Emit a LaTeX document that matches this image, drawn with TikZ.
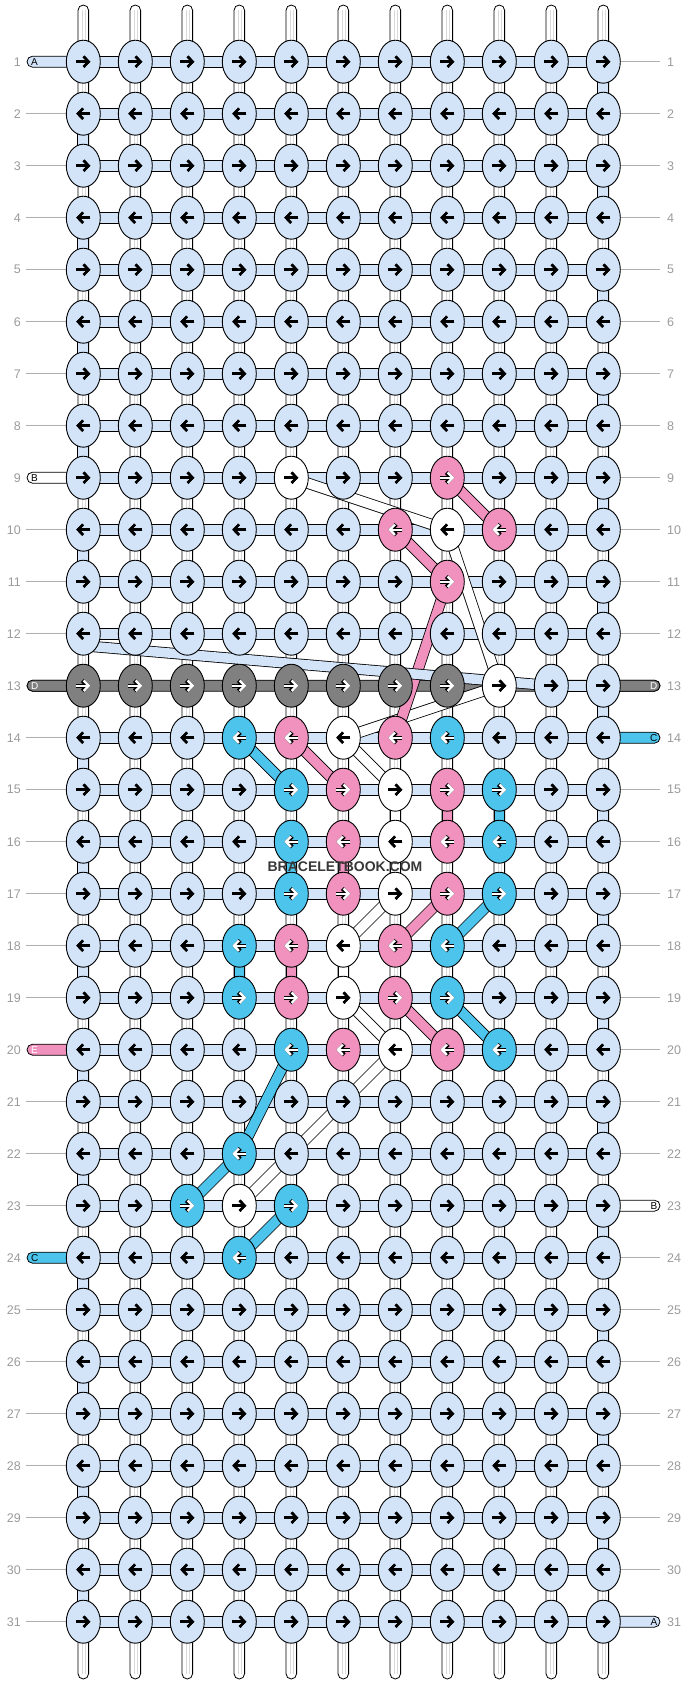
\documentclass[tikz,border=0pt]{standalone}
\usepackage{fontspec}
\setmainfont{Liberation Sans}
\usetikzlibrary{shapes.geometric, arrows.meta}

\definecolor{thrA}{RGB}{211,228,249}
\definecolor{thrB}{RGB}{255,255,255}
\definecolor{thrC}{RGB}{76,196,236}
\definecolor{thrD}{RGB}{128,128,128}
\definecolor{thrE}{RGB}{240,145,190}
\definecolor{rownum}{RGB}{155,155,155}

\pgfdeclarelayer{strings}
\pgfdeclarelayer{threads}
\pgfsetlayers{strings,threads,main}

% knots that are not tied with thread A
\newcommand{\knotrow}[2]{%
  \foreach \c/\k in {#2}{\expandafter\xdef\csname knot@#1@\c\endcsname{\k}}}
\knotrow{9}{5/B,8/E}
\knotrow{10}{7/E,8/B,9/E}
\knotrow{11}{8/E}
\knotrow{13}{1/D,2/D,3/D,4/D,5/D,6/D,7/D,8/D,9/B}
\knotrow{14}{4/C,5/E,6/B,7/E,8/C}
\knotrow{15}{5/C,6/E,7/B,8/E,9/C}
\knotrow{16}{5/C,6/E,7/B,8/E,9/C}
\knotrow{17}{5/C,6/E,7/B,8/E,9/C}
\knotrow{18}{4/C,5/E,6/B,7/E,8/C}
\knotrow{19}{4/C,5/E,6/B,7/E,8/C}
\knotrow{20}{5/C,6/E,7/B,8/E,9/C}
\knotrow{22}{4/C}
\knotrow{23}{3/C,4/B,5/C}
\knotrow{24}{4/C}

\tikzset{
  knot/.style={ellipse, draw, line width=0.9pt, minimum width=34pt,
    minimum height=43pt, inner sep=0pt},
  strand/.style={line width=0.8pt, double distance=9.6pt},
  link/.style={draw, line width=0.8pt, fill=thrA},
  tube/.style={link, rounded corners=5.5pt},
  knotarrow/.style={-{Straight Barb[length=5pt, width=10.5pt]}},
  rimA/.style={line width=2.6pt}, rimB/.style={rimA},
  rimC/.style={line width=4.2pt}, rimD/.style={rimC}, rimE/.style={rimC},
  inkA/.style={black}, inkB/.style={black},
  inkC/.style={white}, inkD/.style={white}, inkE/.style={white},
  rowlabel/.style={font=\fontsize{12.5}{12.5}\selectfont, text=rownum, inner sep=0pt},
  tablabel/.style={font=\fontsize{10}{10}\selectfont, inner sep=0pt},
  rowline/.style={draw=rownum!80, line width=0.7pt},
  warpline/.style={gray!30, line width=0.4pt},
}

\begin{document}
\begin{tikzpicture}[x=1pt, y=-1pt]
\useasboundingbox (0,0) rectangle (688,1684);

\foreach \r in {1,...,31}
  \foreach \c in {1,...,11}{
    \ifcsname knot@\r @\c\endcsname
      \edef\kc{\csname knot@\r @\c\endcsname}\else\def\kc{A}\fi
    \ifodd\r \def\sx{-7}\def\ex{7}\else\def\sx{7}\def\ex{-7}\fi
    \node[knot, fill=thr\kc] (k-\r-\c) at ({83.3+52*(\c-1)}, {61.7+52*(\r-1)}) {};
    \draw[knotarrow, rim\kc] ([xshift=\sx pt]k-\r-\c.center) -- ([xshift=\ex pt]k-\r-\c.center);
    \draw[knotarrow, ink\kc, line width=2.4pt] ([xshift=\sx pt]k-\r-\c.center) -- ([xshift=\ex pt]k-\r-\c.center);
  }

\foreach \c in {1,...,11}{
  \coordinate (top-\c) at ({83.3+52*(\c-1)}, 5);
  \coordinate (bot-\c) at ({83.3+52*(\c-1)}, 1679);
}
\foreach \r in {1,9,13,20,24} \coordinate (tabl-\r) at (27, {61.7+52*(\r-1)});
\foreach \r in {13,14,23,31} \coordinate (tabr-\r) at (660, {61.7+52*(\r-1)});
\coordinate (askip) at ([yshift=-12pt]k-12-1.center);

\begin{pgfonlayer}{strings}
  \fill[white] (0,0) rectangle (688,1684);
  \foreach \c in {1,...,11}{
    \draw[tube, fill=white, rounded corners=5.3pt] ([xshift=-5.3pt]top-\c) rectangle ([xshift=5.3pt]bot-\c);
    \draw[warpline] ([xshift=-1.5pt, yshift=-5pt]top-\c) -- ([xshift=-1.5pt, yshift=5pt]bot-\c);
    \draw[warpline] ([xshift=1.5pt, yshift=-5pt]top-\c) -- ([xshift=1.5pt, yshift=5pt]bot-\c);
  }
\end{pgfonlayer}

\begin{pgfonlayer}{threads}
  % D runs across row 13
  \draw[tube, fill=thrD] ([yshift=5.5pt]tabl-13) rectangle ([yshift=-5.5pt]tabr-13);
  % A across each row
  \foreach \r in {1,...,12,14,15,...,31}
    \foreach \c in {2,...,11}{
      \pgfmathtruncatemacro\pc{\c-1}
      \draw[link] ([yshift=5.5pt]k-\r-\pc.center) rectangle ([yshift=-5.5pt]k-\r-\c.center);
    }
  \draw[link] ([yshift=5.5pt]k-13-10.center) rectangle ([yshift=-5.5pt]k-13-11.center);
  % turns at the edges
  \foreach \r in {1,...,11,13,14,...,30}{
    \pgfmathtruncatemacro\nr{\r+1}
    \ifodd\r \def\ec{11}\else\def\ec{1}\fi
    \draw[link] ([xshift=-5.5pt]k-\r-\ec.center) rectangle ([xshift=5.5pt]k-\nr-\ec.center);
  }
  \foreach \a/\b/\kc in {9-5/10-8/B,10-8/13-9/B,13-9/14-6/B,14-6/15-7/B,%
      15-7/16-7/B,16-7/17-7/B,17-7/18-6/B,18-6/19-6/B,19-6/20-7/B,20-7/23-4/B,%
      14-4/15-5/C,15-9/16-9/C,16-5/17-5/C,17-9/18-8/C,18-4/19-4/C,%
      19-8/20-9/C,20-5/22-4/C,22-4/23-3/C,23-5/24-4/C,%
      9-8/10-9/E,10-7/11-8/E,11-8/14-7/E,14-5/15-6/E,15-8/16-8/E,%
      16-6/17-6/E,17-8/18-7/E,18-5/19-5/E,19-7/20-8/E}
    \draw[strand, double=thr\kc] (k-\a.center) -- (k-\b.center);
  \draw[strand, double=thrA] (askip) -- (k-13-10.center);
  \foreach \r/\kc in {1/A,9/B,13/D,20/E,24/C}
    \draw[tube, fill=thr\kc] ([yshift=5.5pt]tabl-\r) rectangle ([yshift=-5.5pt]k-\r-1.center);
  \foreach \r/\kc in {13/D,14/C,23/B,31/A}
    \draw[tube, fill=thr\kc] ([yshift=5.5pt]k-\r-11.center) rectangle ([yshift=-5.5pt]tabr-\r);
\end{pgfonlayer}

\foreach \r/\kc/\ink in {1/A/black,9/B/black,13/D/white,20/E/white,24/C/black}
  \node[tablabel, text=\ink, anchor=west] (tl-\r) at ([xshift=4pt]tabl-\r) {\kc};
\foreach \r/\kc/\ink in {13/D/white,14/C/black,23/B/black,31/A/black}
  \node[tablabel, text=\ink, anchor=east] (tr-\r) at ([xshift=-2.5pt]tabr-\r) {\kc};

\foreach \r in {1,...,31}{
  \node[rowlabel, anchor=east] (nl-\r) at (21, {61.7+52*(\r-1)}) {\r};
  \node[rowlabel, anchor=west] (nr-\r) at (667, {61.7+52*(\r-1)}) {\r};
}
\foreach \r in {2,...,8,10,11,12,14,15,...,19,21,22,23,25,26,...,31}
  \draw[rowline, shorten <=5pt] (nl-\r.east) -- (k-\r-1.west);
\foreach \r in {1,...,12,15,16,...,22,24,25,...,30}
  \draw[rowline, shorten >=7pt] (k-\r-11.east) -- (nr-\r.west);

\node[font=\bfseries\fontsize{14}{14}\selectfont, text=black!78] (brand) at (345,867)
  {BRACELETBOOK.COM};
\end{tikzpicture}
\end{document}
